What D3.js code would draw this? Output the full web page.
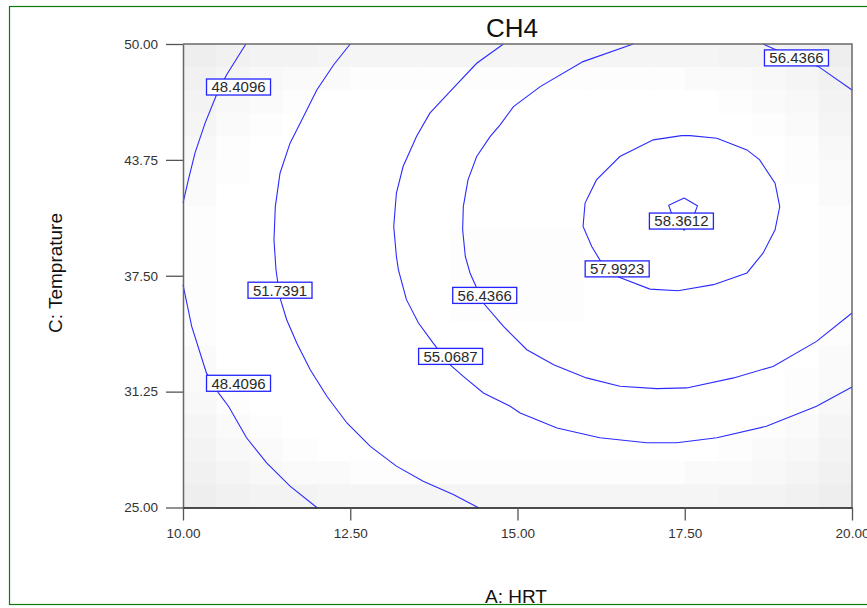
<!DOCTYPE html>
<html>
<head>
<meta charset="utf-8">
<script src="https://cdn.jsdelivr.net/npm/d3@7"></script>
<style>
  body { margin: 0; background: #fff; }
  svg { display: block; font-family: "Liberation Sans", Arial, sans-serif; }
</style>
</head>
<body>
<script>
// tick values
const xTicks = [10, 12.5, 15, 17.5, 20];
const yTicks = [25, 31.25, 37.5, 43.75, 50];

// background shading, 20 x 20 cells, top row first (0 = white, 7 = darkest)
const shadeRows = [
  "76554444444444445567",
  "64322111111111122346",
  "53210000000000001235",
  "42100000000000000124",
  "31000000000000000013",
  "21000000000000000012",
  "20000000000000000002",
  "10000000000000000001",
  "10000000111100000001",
  "10000000111100000001",
  "10000000111100000001",
  "10000000111100000001",
  "10000000000000000001",
  "20000000000000000002",
  "21000000000000000012",
  "31000000000000000013",
  "42100000000000000124",
  "53210000000000001235",
  "64322111111111122346",
  "76554444444444445567"
];

// contour lines, [HRT, Temprature]
const c48Top = [[10.94, 50], [10.65, 48.33], [10.50, 47.25], [10.33, 45.73], [10.18, 44.13], [10.08, 42.67], [10.0, 41.42]];
const c48Bottom = [[10.0, 37.02], [10.13, 34.77], [10.35, 32.26], [10.53, 31.18], [10.68, 30.46], [10.95, 28.76], [11.25, 27.41], [11.60, 26.15], [12.0, 25.0]];
const c51 = [[12.50, 50], [12.25, 48.87], [12.0, 47.52], [11.80, 46.08], [11.60, 44.65], [11.45, 43.03], [11.38, 41.23], [11.36, 39.44], [11.39, 37.82], [11.45, 36.30], [11.55, 35.13], [11.70, 33.87], [11.90, 32.44], [12.15, 31.0], [12.45, 29.56], [12.80, 28.30], [13.19, 27.23], [13.59, 26.42], [14.04, 25.70], [14.41, 25.0]];
const c55 = [[14.79, 50], [14.39, 48.96], [13.99, 47.43], [13.69, 46.27], [13.49, 45.01], [13.29, 43.39], [13.19, 41.96], [13.15, 40.16], [13.19, 38.54], [13.22, 37.82], [13.34, 36.21], [13.52, 34.95], [13.74, 33.87], [13.99, 32.70], [14.19, 32.07], [14.49, 31.18], [14.89, 30.46], [15.04, 30.10], [15.59, 29.29], [16.23, 28.76], [16.93, 28.49], [17.38, 28.49], [17.98, 28.76], [18.72, 29.38], [19.47, 30.46], [20.0, 31.50]];
const c56 = [[16.73, 50], [15.98, 49.05], [15.34, 47.70], [14.94, 46.62], [14.74, 45.64], [14.59, 45.0], [14.39, 43.93], [14.26, 42.67], [14.19, 41.23], [14.18, 39.98], [14.22, 38.54], [14.29, 37.65], [14.49, 36.03], [14.79, 34.77], [15.14, 33.51], [15.54, 32.70], [16.03, 31.99], [16.53, 31.54], [17.08, 31.41], [17.53, 31.45], [18.23, 31.99], [18.82, 32.61], [19.47, 33.96], [20.0, 35.49]];
const c56Corner = [[18.67, 50], [18.87, 49.68], [19.18, 49.25], [19.50, 48.78], [20.0, 47.52]];
const c57 = [[17.45, 45.06], [17.03, 44.83], [16.53, 43.93], [16.18, 42.67], [16.01, 41.42], [15.98, 40.16], [16.11, 39.08], [16.23, 38.36], [16.51, 37.43], [16.98, 36.78], [17.40, 36.69], [17.93, 37.02], [18.43, 37.65], [18.67, 38.72], [18.85, 39.98], [18.92, 41.23], [18.85, 42.49], [18.62, 43.75], [18.43, 44.29], [17.98, 44.92], [17.58, 45.06], [17.45, 45.06]];
const c58 = [[17.49, 41.69], [17.69, 41.27], [17.65, 40.89], [17.49, 39.95], [17.30, 40.89], [17.26, 41.30], [17.49, 41.69]];

const contourLines = [c48Top, c48Bottom, c51, c55, c56, c56Corner, c57, c58];

// contour labels
const labelText = ["48.4096", "48.4096", "51.7391", "55.0687", "56.4366", "56.4366", "57.9923", "58.3612"];
const labelX = [10.83, 10.83, 11.45, 14.0, 14.51, 19.17, 16.49, 17.45];
const labelY = [47.68, 31.70, 36.72, 33.15, 36.44, 49.25, 37.87, 40.45];

const width = 867;
const height = 608;
const marginTop = 44;
const marginRight = 15;
const marginBottom = 100.5;
const marginLeft = 183;

const x = d3.scaleLinear()
    .domain([10, 20])
    .range([marginLeft, width - marginRight]);

const y = d3.scaleLinear()
    .domain([25, 50])
    .range([height - marginBottom, marginTop]);

const svg = d3.create("svg")
    .attr("width", width)
    .attr("height", height)
    .attr("viewBox", `0 0 ${width} ${height}`);

// green frame
svg.append("rect")
    .attr("x", 9.5)
    .attr("y", 6.5)
    .attr("width", 880)
    .attr("height", 598)
    .attr("fill", "none")
    .attr("stroke", "#0a7d0a")
    .attr("stroke-width", 1.2);

// shading cells
const nCols = 20, nRows = 20;
const cellW = 10 / nCols, cellH = 25 / nRows;
shadeRows.forEach((row, j) => {
    row.split("").forEach((ch, i) => {
        const g = Math.round(255 - (+ch) * 2.4);
        svg.append("rect")
            .attr("x", x(10 + i * cellW))
            .attr("y", y(50 - j * cellH))
            .attr("width", x(10 + (i + 1) * cellW) - x(10 + i * cellW) + 0.3)
            .attr("height", y(50 - (j + 1) * cellH) - y(50 - j * cellH) + 0.3)
            .attr("fill", `rgb(${g},${g},${g})`);
    });
});

// contours
const line = d3.line()
    .x(d => x(d[0]))
    .y(d => y(d[1]));

svg.append("g")
    .selectAll("path")
    .data(contourLines)
    .enter()
    .append("path")
    .attr("d", line)
    .attr("fill", "none")
    .attr("stroke", "#2b2bff")
    .attr("stroke-width", 1.1);

// labels
labelText.forEach((t, i) => {
    const g = svg.append("g")
        .attr("transform", `translate(${x(labelX[i])},${y(labelY[i])})`);
    const rect = g.append("rect");
    g.append("text")
        .attr("text-anchor", "middle")
        .attr("dy", "0.36em")
        .style("font-size", "15px")
        .attr("fill", "#2a2a2a")
        .text(t);
    const w = 54;
    rect.attr("x", -w / 2 - 5)
        .attr("y", -8)
        .attr("width", w + 10)
        .attr("height", 16)
        .attr("fill", "#fff")
        .attr("stroke", "#2323ff")
        .attr("stroke-width", 1.3);
});

// frame top / right
svg.append("path")
    .attr("d", `M${x(10)},${y(50)}H${x(20)}V${y(25)}`)
    .attr("fill", "none")
    .attr("stroke", "#6a6a6a")
    .attr("stroke-width", 1.5);

// axes
const yAxis = svg.append("g")
    .attr("transform", `translate(${marginLeft},0)`)
    .call(d3.axisLeft(y).tickValues(yTicks).tickFormat(d3.format(".2f")).tickSize(17).tickSizeOuter(0).tickPadding(8));
yAxis.select(".domain").attr("stroke", "#666").attr("stroke-width", 1.5);
yAxis.selectAll(".tick line").attr("stroke", "#555").attr("stroke-width", 1.3);
yAxis.selectAll("text").style("font-size", "13.5px").attr("fill", "#333").style("font-family", "Liberation Sans, Arial, sans-serif");

const xAxis = svg.append("g")
    .attr("transform", `translate(0,${height - marginBottom})`)
    .call(d3.axisBottom(x).tickValues(xTicks).tickFormat(d3.format(".2f")).tickSize(13).tickSizeOuter(0).tickPadding(8));
xAxis.select(".domain").attr("stroke", "#111").attr("stroke-width", 1.5);
xAxis.selectAll(".tick line").attr("stroke", "#555").attr("stroke-width", 1.3);
xAxis.selectAll("text").style("font-size", "13.5px").attr("fill", "#333").style("font-family", "Liberation Sans, Arial, sans-serif");

// titles
svg.append("text")
    .attr("x", 512)
    .attr("y", 37)
    .attr("text-anchor", "middle")
    .style("font-size", "26px")
    .attr("fill", "#111")
    .text("CH4");

svg.append("text")
    .attr("x", 516)
    .attr("y", 603)
    .attr("text-anchor", "middle")
    .style("font-size", "19px")
    .attr("fill", "#111")
    .text("A: HRT");

svg.append("text")
    .attr("transform", `translate(61.5,273) rotate(-90)`)
    .attr("text-anchor", "middle")
    .style("font-size", "19px")
    .attr("fill", "#111")
    .text("C: Temprature");

document.body.appendChild(svg.node());
</script>
</body>
</html>
